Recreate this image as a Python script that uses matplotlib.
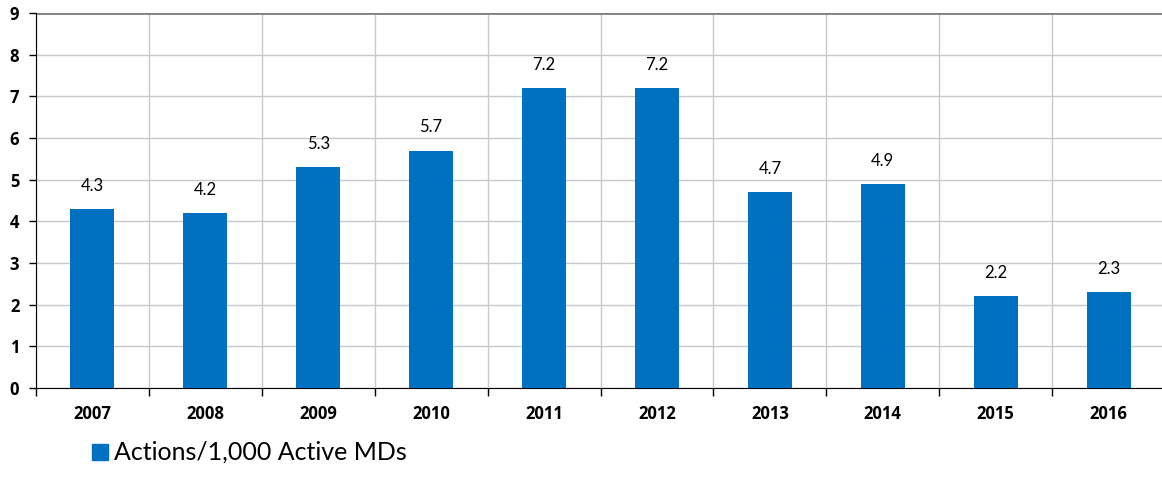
import matplotlib
matplotlib.use("Agg")
import matplotlib.pyplot as plt
from matplotlib.patches import Rectangle

# Data
years = ['2007', '2008', '2009', '2010', '2011', '2012', '2013', '2014', '2015', '2016']
actions = [4.3, 4.2, 5.3, 5.7, 7.2, 7.2, 4.7, 4.9, 2.2, 2.3]
bar_color = '#0070C0'

plt.rcParams['font.family'] = ['Lato', 'DejaVu Sans']
bold_font = dict(family=['Open Sans', 'DejaVu Sans'], weight='bold', size=12)

fig = plt.figure(figsize=(11.62, 4.95), dpi=100)
# plot area runs slightly past the right edge of the image
ax = fig.add_axes([36 / 1162, 107 / 495, 1129 / 1162, 375 / 495])

x = list(range(len(years)))
bars = ax.bar(x, actions, width=0.39, color=bar_color, zorder=3)

ax.set_xlim(-0.5, len(years) - 0.5)
ax.set_ylim(0, 9)
ax.set_yticks(range(0, 10), [str(i) for i in range(0, 10)], fontdict=bold_font)

# gridlines: horizontal at integers, vertical between categories
ax.set_xticks([i - 0.5 for i in range(len(years) + 1)])
ax.set_xticklabels([])
ax.set_xticks(x, minor=True)
ax.set_xticklabels(years, minor=True, fontdict=bold_font)
ax.tick_params(axis='x', which='minor', length=0, pad=12)
ax.tick_params(axis='x', which='major', length=6, direction='out', width=1)
ax.tick_params(axis='y', length=5, direction='out', width=1, pad=7)

ax.grid(True, which='major', color='#C8C8C8', linewidth=1, zorder=0)

for side in ['top', 'right']:
    ax.spines[side].set_visible(False)
ax.spines['left'].set_color('black')
ax.spines['bottom'].set_color('black')
ax.axhline(9, color='#808080', linewidth=2, zorder=2)

for xi, v in zip(x, actions):
    ax.annotate(f'{v:.1f}', (xi, v), xytext=(0, 11), textcoords='offset points',
                ha='center', va='bottom', fontsize=12)

# legend
fig.patches.append(Rectangle((92 / 1162, (495 - 460) / 495), 16 / 1162, 16 / 495,
                             transform=fig.transFigure, color=bar_color))
fig.text(114 / 1162, (495 - 452) / 495, 'Actions/1,000 Active MDs', fontsize=18,
         va='center', ha='left')

fig.savefig('out.png', dpi=100)
